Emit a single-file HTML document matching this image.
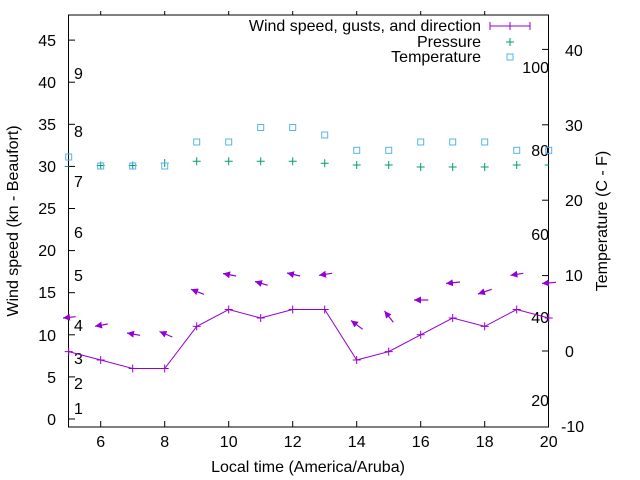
<!DOCTYPE html>
<html><head><meta charset="utf-8"><style>
body{margin:0;background:#fff}
svg{display:block;font-family:"Liberation Sans",sans-serif;font-size:16px;fill:#000}
</style></head><body>
<svg width="640" height="480" viewBox="0 0 640 480" xmlns="http://www.w3.org/2000/svg">
<defs>
<marker id="ah" markerWidth="8" markerHeight="8" refX="7" refY="4" orient="auto" markerUnits="userSpaceOnUse">
<polygon points="0,0.5 7,4 0,7.5" fill="#9400d3"/>
</marker>
</defs>
<rect x="68.5" y="15" width="480" height="412" fill="none" stroke="#000" stroke-width="1"/>
<g stroke="#000" stroke-width="1">
<line x1="68.5" y1="419" x2="75" y2="419"/><line x1="68.5" y1="376.9" x2="75" y2="376.9"/>
<line x1="68.5" y1="334.8" x2="75" y2="334.8"/><line x1="68.5" y1="292.7" x2="75" y2="292.7"/>
<line x1="68.5" y1="250.6" x2="75" y2="250.6"/><line x1="68.5" y1="208.5" x2="75" y2="208.5"/>
<line x1="68.5" y1="166.4" x2="75" y2="166.4"/><line x1="68.5" y1="124.3" x2="75" y2="124.3"/>
<line x1="68.5" y1="82.2" x2="75" y2="82.2"/><line x1="68.5" y1="40.1" x2="75" y2="40.1"/>
<line x1="542" y1="49.4" x2="548.5" y2="49.4"/><line x1="542" y1="124.8" x2="548.5" y2="124.8"/>
<line x1="542" y1="200.2" x2="548.5" y2="200.2"/><line x1="542" y1="275.6" x2="548.5" y2="275.6"/>
<line x1="542" y1="351" x2="548.5" y2="351"/>
<line x1="100.7" y1="427" x2="100.7" y2="421"/><line x1="164.7" y1="427" x2="164.7" y2="421"/>
<line x1="228.7" y1="427" x2="228.7" y2="421"/><line x1="292.7" y1="427" x2="292.7" y2="421"/>
<line x1="356.7" y1="427" x2="356.7" y2="421"/><line x1="420.7" y1="427" x2="420.7" y2="421"/>
<line x1="484.7" y1="427" x2="484.7" y2="421"/>
<line x1="100.7" y1="15" x2="100.7" y2="11"/><line x1="164.7" y1="15" x2="164.7" y2="11"/>
<line x1="228.7" y1="15" x2="228.7" y2="11"/><line x1="292.7" y1="15" x2="292.7" y2="11"/>
<line x1="356.7" y1="15" x2="356.7" y2="11"/><line x1="420.7" y1="15" x2="420.7" y2="11"/>
<line x1="484.7" y1="15" x2="484.7" y2="11"/>
</g>
<g text-anchor="end">
<text x="56" y="425">0</text><text x="56" y="383">5</text><text x="56" y="341">10</text>
<text x="56" y="298">15</text><text x="56" y="256">20</text><text x="56" y="214">25</text>
<text x="56" y="172">30</text><text x="56" y="130">35</text><text x="56" y="88">40</text>
<text x="56" y="46">45</text>
<text x="549" y="73">100</text><text x="549" y="156">80</text><text x="549" y="240">60</text>
<text x="549" y="323">40</text><text x="549" y="406">20</text>
</g>
<g>
<text x="74" y="414">1</text><text x="74" y="389">2</text><text x="74" y="364">3</text>
<text x="74" y="331">4</text><text x="74" y="281">5</text><text x="74" y="238">6</text>
<text x="74" y="187">7</text><text x="74" y="137">8</text><text x="74" y="79">9</text>
<text x="565" y="56">40</text><text x="565" y="131">30</text><text x="565" y="206">20</text>
<text x="565" y="281">10</text><text x="565" y="357">0</text><text x="561" y="432">-10</text>
</g>
<g text-anchor="middle">
<text x="100.7" y="447">6</text><text x="164.7" y="447">8</text><text x="228.7" y="447">10</text>
<text x="292.7" y="447">12</text><text x="356.7" y="447">14</text><text x="420.7" y="447">16</text>
<text x="484.7" y="447">18</text><text x="548.7" y="447">20</text>
<text x="308" y="472">Local time (America/Aruba)</text>
<text transform="translate(18,221) rotate(-90)">Wind speed (kn - Beaufort)</text>
<text transform="translate(607,221) rotate(-90)">Temperature (C - F)</text>
</g>
<g text-anchor="end">
<text x="481" y="31">Wind speed, gusts, and direction</text>
<text x="481" y="47">Pressure</text>
<text x="481" y="62">Temperature</text>
</g>
<g stroke="#9400d3" stroke-width="1" fill="none">
<line x1="490" y1="26" x2="530" y2="26"/><line x1="490" y1="22" x2="490" y2="30"/>
<line x1="530" y1="22" x2="530" y2="30"/><line x1="510" y1="22" x2="510" y2="30"/>
<polyline points="68.7,351.6 100.7,360 132.7,368.5 164.7,368.5 196.7,326.4 228.7,309.5 260.7,318 292.7,309.5 324.7,309.5 356.7,360 388.7,351.6 420.7,334.8 452.7,318 484.7,326.4 516.7,309.5 548.7,318"/>
<path d="M64.7,351.6h8M68.7,347.6v8 M96.7,360h8M100.7,356v8 M128.7,368.5h8M132.7,364.5v8 M160.7,368.5h8M164.7,364.5v8 M192.7,326.4h8M196.7,322.4v8 M224.7,309.5h8M228.7,305.5v8 M256.7,318h8M260.7,314v8 M288.7,309.5h8M292.7,305.5v8 M320.7,309.5h8M324.7,305.5v8 M352.7,360h8M356.7,356v8 M384.7,351.6h8M388.7,347.6v8 M416.7,334.8h8M420.7,330.8v8 M448.7,318h8M452.7,314v8 M480.7,326.4h8M484.7,322.4v8 M512.7,309.5h8M516.7,305.5v8 M544.7,318h8M548.7,314v8"/>
</g>
<g stroke="#9400d3" stroke-width="1.2" marker-end="url(#ah)">
<line x1="75.7" y1="316.7" x2="63" y2="318"/>
<line x1="107.7" y1="324" x2="95" y2="326.3"/>
<line x1="140" y1="335.3" x2="127" y2="333"/>
<line x1="172.3" y1="337" x2="159.5" y2="331.5"/>
<line x1="204" y1="294.3" x2="191" y2="289.3"/>
<line x1="236" y1="276" x2="223" y2="273.5"/>
<line x1="267.7" y1="285.3" x2="255" y2="281.5"/>
<line x1="300" y1="276" x2="287" y2="273"/>
<line x1="332" y1="273.3" x2="319" y2="275.3"/>
<line x1="362.7" y1="329.3" x2="351" y2="320.5"/>
<line x1="393.3" y1="322.3" x2="384.5" y2="311"/>
<line x1="428.3" y1="300" x2="414" y2="300"/>
<line x1="460" y1="282" x2="446" y2="283.5"/>
<line x1="491.7" y1="289.3" x2="478" y2="294"/>
<line x1="523.3" y1="273.3" x2="510.5" y2="275.3"/>
<line x1="556" y1="282.3" x2="542" y2="283.5"/>
</g>
<g stroke="#009e73" stroke-width="1" fill="none">
<path d="M506,42h8M510,38v8 M64.7,166.5h4 M96.7,165.5h8M100.7,161.5v8 M128.7,165.5h8M132.7,161.5v8 M160.7,163h8M164.7,159v8 M192.7,161.3h8M196.7,157.3v8 M224.7,161.3h8M228.7,157.3v8 M256.7,161.3h8M260.7,157.3v8 M288.7,161.3h8M292.7,157.3v8 M320.7,163.3h8M324.7,159.3v8 M352.7,165h8M356.7,161v8 M384.7,165h8M388.7,161v8 M416.7,167h8M420.7,163v8 M448.7,167h8M452.7,163v8 M480.7,167h8M484.7,163v8 M512.7,165h8M516.7,161v8 M544.7,165h4"/>
</g>
<g stroke="#56b4e9" stroke-width="1" fill="none">
<rect x="507" y="54" width="6" height="6"/>
<rect x="65.7" y="154" width="6" height="6"/>
<rect x="97.7" y="163" width="6" height="6"/>
<rect x="129.7" y="163" width="6" height="6"/>
<rect x="161.7" y="163" width="6" height="6"/>
<rect x="193.7" y="139" width="6" height="6"/>
<rect x="225.7" y="139" width="6" height="6"/>
<rect x="257.7" y="124.5" width="6" height="6"/>
<rect x="289.7" y="124.5" width="6" height="6"/>
<rect x="321.7" y="132" width="6" height="6"/>
<rect x="353.7" y="147.3" width="6" height="6"/>
<rect x="385.7" y="147.3" width="6" height="6"/>
<rect x="417.7" y="139" width="6" height="6"/>
<rect x="449.7" y="139" width="6" height="6"/>
<rect x="481.7" y="139" width="6" height="6"/>
<rect x="513.7" y="147.3" width="6" height="6"/>
<rect x="545.7" y="147.3" width="6" height="6"/>
</g>
</svg>
</body></html>
